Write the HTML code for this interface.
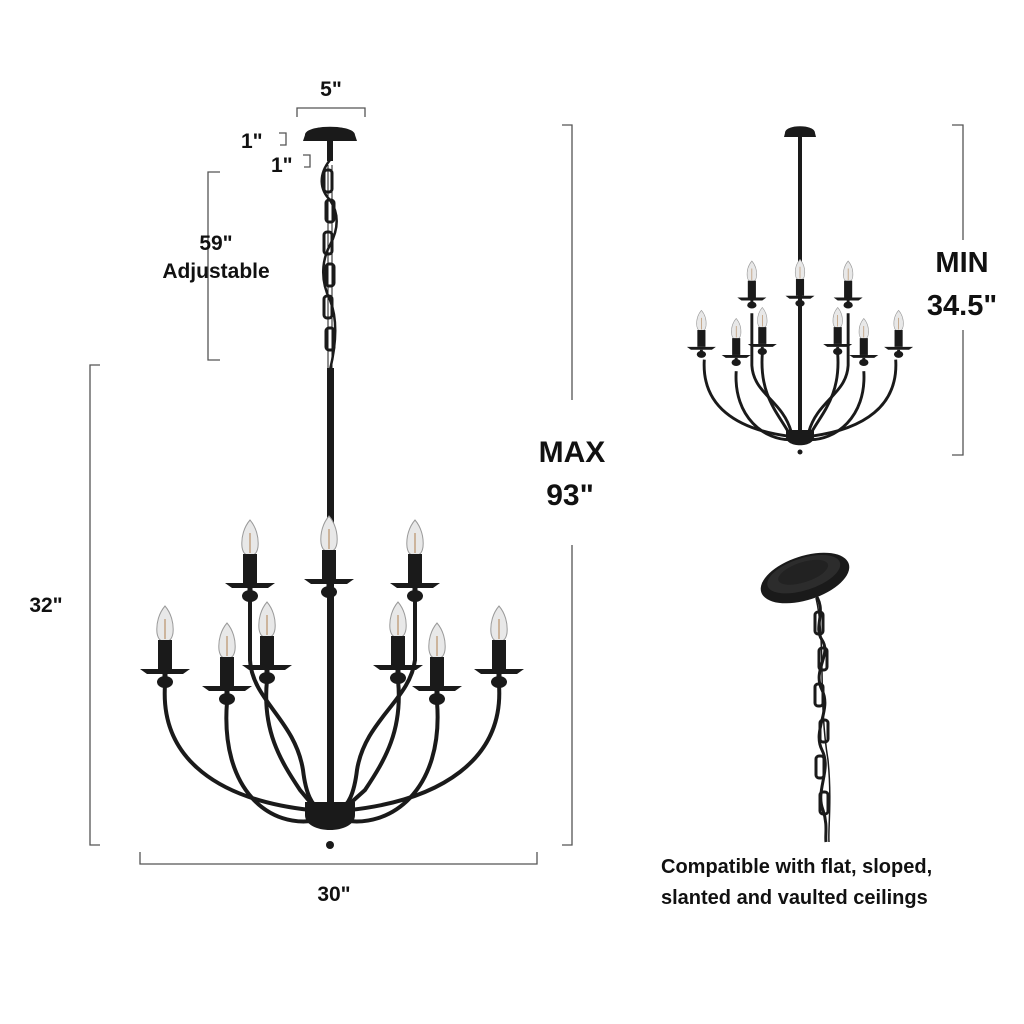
<!DOCTYPE html>
<html><head><meta charset="utf-8"><style>
html,body{margin:0;padding:0;background:#fff}
svg{display:block}
text{font-family:"Liberation Sans",Arial,sans-serif;font-weight:bold;fill:#111}
</style></head><body>
<svg width="1024" height="1024" viewBox="0 0 1024 1024" xmlns="http://www.w3.org/2000/svg">
<defs>
<g id="c">
  <path d="M0,-63 C-6,-56 -9,-46 -8,-36 C-7,-30 -5,-28 0,-27 C5,-28 7,-30 8,-36 C9,-46 6,-56 0,-63 Z" fill="#e8e8e8" stroke="#999" stroke-width="1"/>
  <path d="M0,-50 L0,-30" stroke="#b08050" stroke-width="1"/>
  <rect x="-7" y="-29" width="14" height="29" fill="#1a1a1a"/>
  <path d="M-25,0 L25,0 L18,5 L-18,5 Z" fill="#1a1a1a"/>
  <ellipse cx="0" cy="13" rx="8" ry="6" fill="#1a1a1a"/>
  <rect x="-2.5" y="5" width="5" height="10" fill="#1a1a1a"/>
</g>
</defs>

<!-- dimension lines -->
<g stroke="#555" stroke-width="1.3" fill="none">
  <path d="M297,117 L297,108 L365,108 L365,117"/>
  <path d="M279,133 L286,133 L286,145 L280,145"/>
  <path d="M303,155 L310,155 L310,167 L304,167"/>
  <path d="M220,172 L208,172 L208,360 L220,360"/>
  <path d="M100,365 L90,365 L90,845 L100,845"/>
  <path d="M140,852 L140,864 L537,864 L537,852"/>
  <path d="M562,125 L572,125 L572,400 M572,545 L572,845 L562,845"/>
  <path d="M952,125 L963,125 L963,240 M963,330 L963,455 L952,455"/>
</g>

<!-- main chandelier -->
<g fill="#1a1a1a" stroke="none">
  <path d="M305,135 C305,124 355,124 355,135 L357,141 L303,141 Z"/>
  <rect x="327" y="141" width="6" height="20"/>
</g>
<g stroke="#1a1a1a" stroke-width="2.5" fill="none">
  <path d="M330,160 C318,175 320,190 330,200 C340,215 338,230 330,245 C322,260 320,280 330,300 C338,320 336,345 330,370"/>
  <path d="M328,165 L328,370 M332,165 L332,370" stroke-width="1"/>
</g>
<g fill="none" stroke="#1a1a1a" stroke-width="3">
  <rect x="324" y="170" width="8" height="22" rx="3"/>
  <rect x="326" y="200" width="8" height="22" rx="3"/>
  <rect x="324" y="232" width="8" height="22" rx="3"/>
  <rect x="326" y="264" width="8" height="22" rx="3"/>
  <rect x="324" y="296" width="8" height="22" rx="3"/>
  <rect x="326" y="328" width="8" height="22" rx="3"/>
</g>
<rect x="327" y="368" width="7" height="440" fill="#1a1a1a"/>
<g stroke="#1a1a1a" stroke-width="4" fill="none" stroke-linecap="round">
  <path d="M250,600 L250,660 C252,700 295,720 303,770 C306,795 312,805 320,810"/>
  <path d="M415,600 L415,660 C410,700 365,720 357,770 C354,795 348,805 340,810"/>
  <path d="M165,685 C160,760 220,800 310,810"/>
  <path d="M499,685 C504,760 440,800 350,810"/>
  <path d="M227,702 C220,790 270,830 318,820"/>
  <path d="M437,702 C444,790 390,830 342,820"/>
  <path d="M267,680 C262,730 280,760 300,790 L315,808"/>
  <path d="M398,680 C403,730 385,760 365,790 L345,808"/>
</g>
<path d="M305,802 L355,802 L355,815 C355,835 305,835 305,815 Z" fill="#1a1a1a"/>
<circle cx="330" cy="845" r="4" fill="#1a1a1a"/>
<use href="#c" x="250" y="583"/>
<use href="#c" x="329" y="579"/>
<use href="#c" x="415" y="583"/>
<use href="#c" x="165" y="669"/>
<use href="#c" x="227" y="686"/>
<use href="#c" x="267" y="665"/>
<use href="#c" x="398" y="665"/>
<use href="#c" x="437" y="686"/>
<use href="#c" x="499" y="669"/>

<!-- small chandelier -->
<path d="M785,133 C785,124 815,124 815,133 L816,137 L784,137 Z" fill="#1a1a1a"/>
<rect x="798" y="137" width="4" height="300" fill="#1a1a1a"/>
<g transform="translate(800,0)">
<g transform="scale(0.58)" stroke="#1a1a1a" stroke-width="5" fill="none">
  <path d="M-83,540 L-83,630 C-80,680 -30,690 -15,745"/>
  <path d="M83,540 L83,630 C80,680 30,690 15,745"/>
  <path d="M-165,620 C-170,700 -110,740 -20,752"/>
  <path d="M165,620 C170,700 110,740 20,752"/>
  <path d="M-110,640 C-115,720 -60,760 -15,758"/>
  <path d="M110,640 C115,720 60,760 15,758"/>
  <path d="M-65,610 C-70,680 -40,710 -20,745"/>
  <path d="M65,610 C70,680 40,710 20,745"/>
</g>
</g>
<path d="M786,430 L814,430 L814,437 C814,448 786,448 786,437 Z" fill="#1a1a1a"/>
<circle cx="800" cy="452" r="2.5" fill="#1a1a1a"/>
<g transform="translate(800,0) scale(0.58)">
<use href="#c" x="-83" y="513"/>
<use href="#c" x="0" y="510"/>
<use href="#c" x="83" y="513"/>
<use href="#c" x="-170" y="598"/>
<use href="#c" x="-110" y="612"/>
<use href="#c" x="-65" y="593"/>
<use href="#c" x="65" y="593"/>
<use href="#c" x="110" y="612"/>
<use href="#c" x="170" y="598"/>
</g>

<!-- ceiling canopy close-up -->
<g transform="rotate(-18 805 578)">
  <ellipse cx="805" cy="578" rx="46" ry="22" fill="#1a1a1a"/>
  <ellipse cx="805" cy="574" rx="38" ry="16" fill="#2c2c2c"/>
  <ellipse cx="805" cy="572" rx="26" ry="10" fill="#222"/>
</g>
<g stroke="#1a1a1a" stroke-width="3" fill="none">
  <path d="M812,590 C830,610 812,625 822,640 C832,655 812,670 822,690 C832,710 812,730 822,750 C832,770 815,790 823,810 C828,825 825,835 826,842"/>
  <path d="M816,598 C826,640 818,700 828,760 C832,800 828,830 829,842" stroke-width="1.5"/>
  <rect x="815" y="612" width="8" height="22" rx="3"/>
  <rect x="819" y="648" width="8" height="22" rx="3"/>
  <rect x="815" y="684" width="8" height="22" rx="3"/>
  <rect x="820" y="720" width="8" height="22" rx="3"/>
  <rect x="816" y="756" width="8" height="22" rx="3"/>
  <rect x="820" y="792" width="8" height="22" rx="3"/>
</g>

<!-- labels -->
<text x="331" y="96" font-size="21" text-anchor="middle">5"</text>
<text x="241" y="148" font-size="21">1"</text>
<text x="271" y="172" font-size="21">1"</text>
<text x="216" y="250" font-size="21" text-anchor="middle">59"</text>
<text x="216" y="278" font-size="21" text-anchor="middle">Adjustable</text>
<text x="46" y="612" font-size="21" text-anchor="middle">32"</text>
<text x="334" y="901" font-size="21" text-anchor="middle">30"</text>
<text x="572" y="462" font-size="30" text-anchor="middle">MAX</text>
<text x="570" y="505" font-size="30" text-anchor="middle">93"</text>
<text x="962" y="272" font-size="29" text-anchor="middle">MIN</text>
<text x="962" y="315" font-size="29" text-anchor="middle">34.5"</text>
<text x="661" y="873" font-size="20">Compatible with flat, sloped,</text>
<text x="661" y="904" font-size="20">slanted and vaulted ceilings</text>
</svg>
</body></html>
